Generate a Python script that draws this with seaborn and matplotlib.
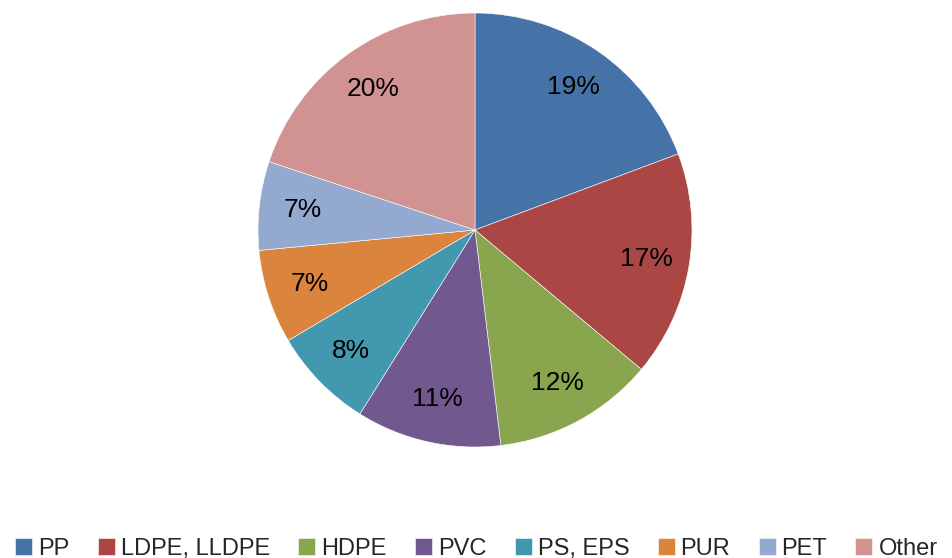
import matplotlib
matplotlib.use("Agg")
import matplotlib.pyplot as plt
import seaborn as sns

# plastic types and their share (%)
categories = ["PP", "LDPE, LLDPE", "HDPE", "PVC", "PS, EPS", "PUR", "PET", "Other"]
shares = [19.3, 16.8, 12.0, 10.8, 7.6, 7.0, 6.6, 19.9]
colors = ["#4572A7", "#AA4643", "#89A54E", "#71588F",
          "#4198AF", "#DB843D", "#93A9CF", "#D19392"]

sns.set_theme(style="white")
plt.rcParams["font.family"] = ["Liberation Sans", "DejaVu Sans"]

fig = plt.figure(figsize=(9.53, 5.58), dpi=100)
# pie centre ~ (475, 230) px, radius ~217 px
r = 217
ax = fig.add_axes([(475 - r) / 953, 1 - (230 + r) / 558, 2 * r / 953, 2 * r / 558])

palette = sns.color_palette(colors)
wedges, texts, autotexts = ax.pie(
    shares, colors=palette, startangle=90, counterclock=False,
    autopct="%1.0f%%", pctdistance=0.8,
    wedgeprops={"edgecolor": "white", "linewidth": 0.4},
    textprops={"fontsize": 19, "color": "black"},
)
ax.set_xlim(-1, 1)
ax.set_ylim(-1, 1)
ax.set_aspect("equal")

fig.legend(wedges, categories, loc="lower center", bbox_to_anchor=(0.5, -0.02),
           ncol=len(categories), frameon=False, fontsize=17,
           handlelength=0.72, handleheight=0.72, handletextpad=0.25,
           columnspacing=1.2, borderaxespad=0)

fig.savefig("out.png", dpi=100, facecolor="white")
